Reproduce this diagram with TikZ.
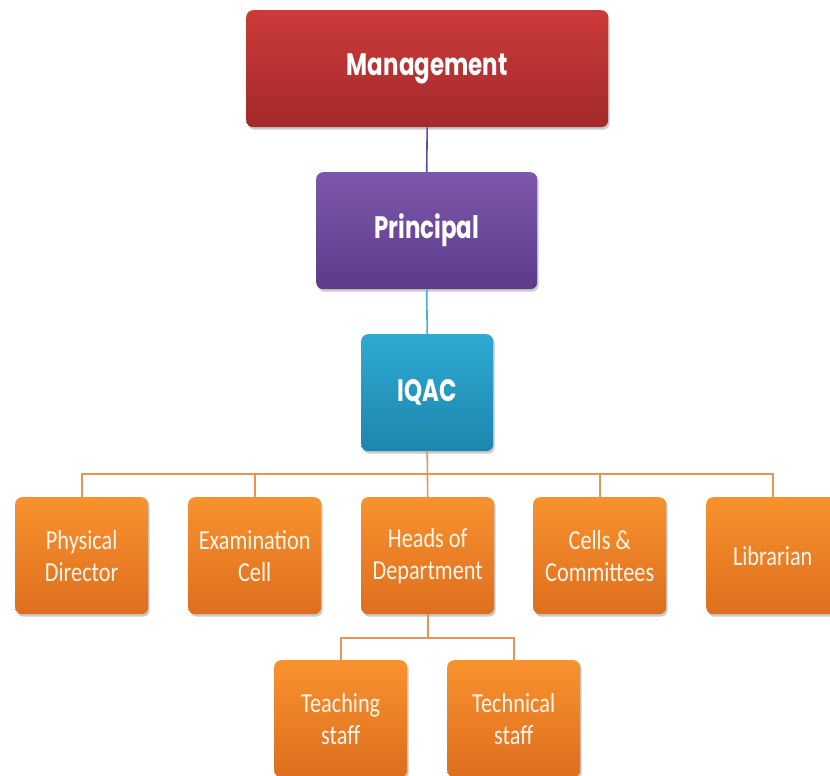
\documentclass[tikz,border=0pt]{standalone}
\usepackage{fontspec}
\setmainfont[FakeStretch=0.81]{Carlito}
\newfontfamily\headfont[FakeStretch=0.74]{Poppins}
\usetikzlibrary{shadows}
\definecolor{mgtop}{HTML}{CC3B3A}
\definecolor{mgbot}{HTML}{A3292B}
\definecolor{prtop}{HTML}{7D57AB}
\definecolor{prbot}{HTML}{5C3B8A}
\definecolor{iqtop}{HTML}{2EAAD2}
\definecolor{iqbot}{HTML}{1D86AE}
\definecolor{ortop}{HTML}{F8922E}
\definecolor{orbot}{HTML}{DE6E1E}
\definecolor{lnpur}{HTML}{5E4D9C}
\definecolor{lnteal}{HTML}{4BAFCB}
\definecolor{lnor}{HTML}{EC9350}
\tikzset{
  box/.style={rounded corners=7pt, inner sep=0pt, anchor=north west,
    drop shadow={shadow xshift=1.5pt, shadow yshift=-2.5pt, opacity=0.35, fill=black!60}},
  headbox/.style={box, text=white, font=\headfont\bfseries\fontsize{31}{36}\selectfont},
  orbox/.style={box, top color=ortop, bottom color=orbot, text=white!92!orange,
    font=\fontsize{27.5}{32}\selectfont, align=center,
    minimum width=133pt, minimum height=117pt},
  conn/.style={line width=1.6pt}
}
\begin{document}
\begin{tikzpicture}[x=1pt,y=-1pt]
\useasboundingbox (0,0) rectangle (830,776);
\clip (0,0) rectangle (830,776);
\node[headbox, top color=mgtop, bottom color=mgbot, minimum width=362pt, minimum height=117pt] (mg) at (246,10) {Management};
\node[headbox, top color=prtop, bottom color=prbot, minimum width=221pt, minimum height=117pt] (pr) at (316,172) {Principal};
\node[headbox, top color=iqtop, bottom color=iqbot, minimum width=132pt, minimum height=117pt] (iq) at (361,334) {IQAC};

\node[orbox] (pd) at (15,497) {Physical\\Director};
\node[orbox] (ec) at (188,497) {Examination\\Cell};
\node[orbox] (hd) at (361,497) {Heads of\\Department};
\node[orbox] (cc) at (533,497) {Cells \&\\Committees};
\node[orbox] (lb) at (706,497) {Librarian};
\node[orbox] (ts) at (274,660) {Teaching\\staff};
\node[orbox] (tc) at (447,660) {Technical\\staff};

\draw[conn, lnpur] (mg.south) -- (pr.north);
\draw[conn, lnteal] (pr.south) -- (iq.north);
\coordinate (bus) at (0,474);
\draw[conn, lnor] (iq.south) -- (hd.north);
\draw[conn, lnor] (pd.north) -- (pd.north |- bus) -- (lb.north |- bus) -- (lb.north);
\draw[conn, lnor] (ec.north) -- (ec.north |- bus);
\draw[conn, lnor] (cc.north) -- (cc.north |- bus);
\coordinate (bus2) at (0,638);
\draw[conn, lnor] (hd.south) -- (hd.south |- bus2);
\draw[conn, lnor] (ts.north) -- (ts.north |- bus2) -- (tc.north |- bus2) -- (tc.north);
\end{tikzpicture}
\end{document}
